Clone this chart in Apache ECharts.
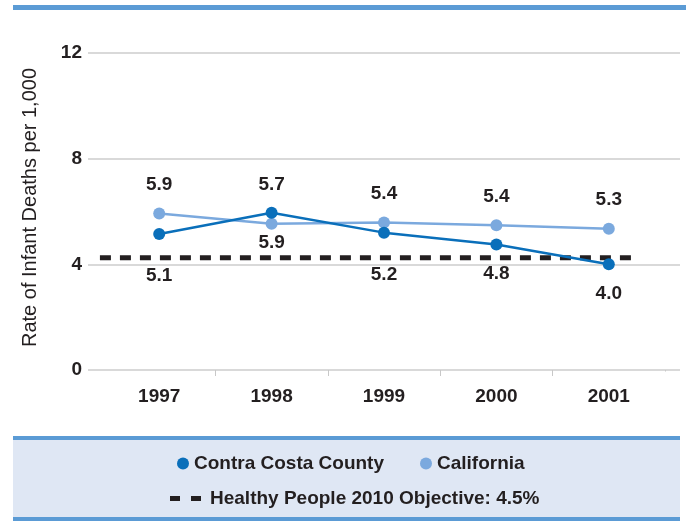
<!DOCTYPE html>
<html>
<head>
<meta charset="utf-8">
<script src="https://cdn.jsdelivr.net/npm/echarts@6/dist/echarts.min.js"></script>
<style>
html, body { margin: 0; padding: 0; background: #fff; }
#main { width: 686px; height: 521px; }
</style>
</head>
<body>
<div id="main"></div>
<script>
var years = ['1997', '1998', '1999', '2000', '2001'];
var contraCosta = [5.15, 5.95, 5.2, 4.75, 4.0];
var contraCostaLabels = ['5.1', '5.9', '5.2', '4.8', '4.0'];
var california = [5.92, 5.54, 5.58, 5.48, 5.35];
var californiaLabels = ['5.9', '5.7', '5.4', '5.4', '5.3'];
var objective = 4.25;
// start / end of the objective line, in category units
var objectiveSpan = [-0.527, 4.21];

var FONT = '"Liberation Sans", Arial, sans-serif';
var INK = '#231f20';

// label distance per point (keeps labels off the dashed line)
var ccGap = [26, 14, 27, 14, 14];
var calGap = [13, 23, 13, 13, 13];

function withLabels(values, texts, gaps, pos) {
    var out = [];
    for (var i = 0; i < values.length; i++) {
        out.push({
            value: values[i],
            label: { position: pos, distance: gaps[i], formatter: texts[i] }
        });
    }
    return out;
}

var labelStyle = {
    show: true,
    fontFamily: FONT,
    fontWeight: 'bold',
    fontSize: 19,
    color: INK
};

var chart = echarts.init(document.getElementById('main'));
chart.setOption({
    animation: false,
    backgroundColor: '#fff',
    graphic: [
        { type: 'rect', shape: { x: 13, y: 5, width: 673, height: 5 }, style: { fill: '#5b9bd5' } },
        { type: 'rect', shape: { x: 13, y: 438, width: 667, height: 80 }, style: { fill: '#dfe7f4' } },
        { type: 'rect', shape: { x: 13, y: 436, width: 667, height: 4 }, style: { fill: '#5b9bd5' } },
        { type: 'rect', shape: { x: 13, y: 517, width: 667, height: 4 }, style: { fill: '#5b9bd5' } },
        // hide the outer boundary tick
        { type: 'rect', z: 50, shape: { x: 662, y: 371.5, width: 6, height: 7 }, style: { fill: '#fff' } }
    ],
    grid: [
        { left: 88, right: 6, top: 53, bottom: 151 },
        { left: 103, right: 21, top: 53, bottom: 151 }
    ],
    xAxis: [
        {
            type: 'value', gridIndex: 0, min: -0.633, max: 4.633,
            show: false, splitLine: { show: false }
        },
        {
            type: 'category', gridIndex: 1, data: years, boundaryGap: true,
            axisLine: { show: false },
            axisTick: {
                show: true, length: 6,
                interval: function (i) { return i > 0 && i < years.length; },
                lineStyle: { color: '#c8c8c8', width: 1 }
            },
            axisLabel: {
                margin: 17, fontFamily: FONT, fontWeight: 'bold',
                fontSize: 19, color: INK
            },
            splitLine: { show: false }
        }
    ],
    yAxis: [
        {
            type: 'value', gridIndex: 0, min: 0, max: 12, interval: 4,
            axisLine: { show: false },
            axisTick: { show: false },
            axisLabel: {
                margin: 6, fontFamily: FONT, fontWeight: 'bold',
                fontSize: 19, color: INK
            },
            splitLine: { show: true, lineStyle: { color: '#cccccc', width: 1.5 } },
            name: 'Rate of Infant Deaths per 1,000',
            nameLocation: 'middle',
            nameGap: 48,
            nameRotate: 90,
            nameTextStyle: { fontFamily: FONT, fontSize: 20, color: INK, padding: [0, 0, 0, 8] }
        },
        {
            type: 'value', gridIndex: 1, min: 0, max: 12, interval: 4,
            show: false, splitLine: { show: false }
        }
    ],
    legend: [
        {
            left: 172, top: 449,
            data: ['Contra Costa County', 'California'],
            icon: 'circle', itemWidth: 12, itemHeight: 12, itemGap: 36,
            textStyle: { fontFamily: FONT, fontWeight: 'bold', fontSize: 19, color: INK }
        },
        {
            left: 165, top: 484,
            data: [{
                name: 'Healthy People 2010 Objective: 4.5%',
                icon: 'path://M0,0H10V5H0Z M21,0H31V5H21Z'
            }],
            itemWidth: 31, itemHeight: 5,
            textStyle: {
                fontFamily: FONT, fontWeight: 'bold', fontSize: 19, color: INK,
                padding: [0, 0, 0, 4]
            }
        }
    ],
    series: [
        {
            name: 'Healthy People 2010 Objective: 4.5%',
            type: 'line', xAxisIndex: 0, yAxisIndex: 0,
            data: [[objectiveSpan[0], objective], [objectiveSpan[1], objective]],
            showSymbol: false, symbol: 'none',
            itemStyle: { color: INK },
            lineStyle: { color: INK, width: 5, type: [11, 9] },
            z: 2
        },
        {
            name: 'California',
            type: 'line', xAxisIndex: 1, yAxisIndex: 1,
            data: withLabels(california, californiaLabels, calGap, 'top'),
            symbol: 'circle', symbolSize: 12,
            itemStyle: { color: '#7ba9de' },
            lineStyle: { color: '#7ba9de', width: 2.5 },
            label: labelStyle,
            z: 3
        },
        {
            name: 'Contra Costa County',
            type: 'line', xAxisIndex: 1, yAxisIndex: 1,
            data: withLabels(contraCosta, contraCostaLabels, ccGap, 'bottom'),
            symbol: 'circle', symbolSize: 12,
            itemStyle: { color: '#0a6fba' },
            lineStyle: { color: '#0a6fba', width: 2.5 },
            label: labelStyle,
            z: 4
        }
    ]
});
</script>
</body>
</html>
